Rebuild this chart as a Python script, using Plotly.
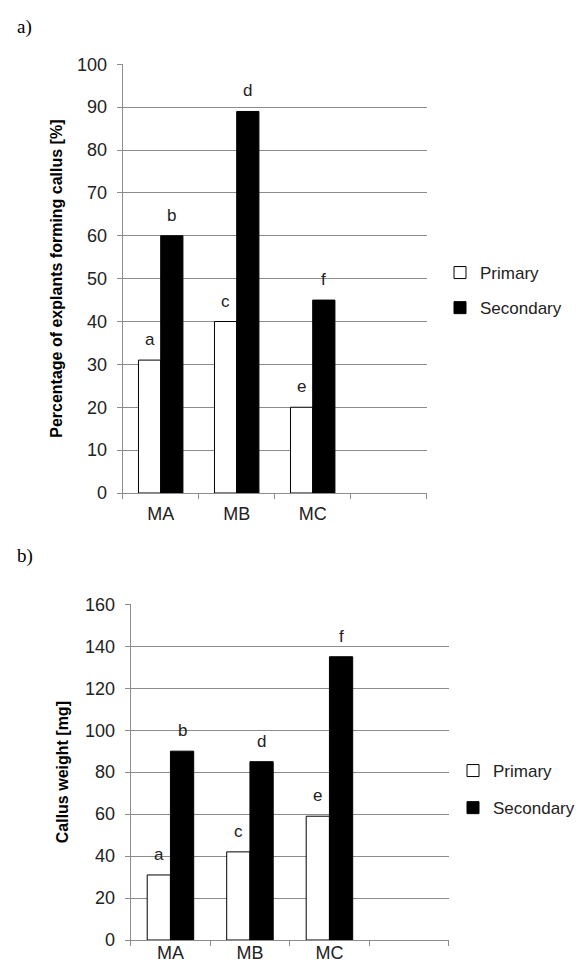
import plotly.graph_objects as go

# ---- data ----
categories = ["MA", "MB", "MC"]
pad_category = " "          # empty fourth slot on the category axis
series_names = ["Primary", "Secondary"]

pct_primary = [31, 40, 20]
pct_secondary = [60, 89, 45]
pct_primary_letters = ["a", "c", "e"]
pct_secondary_letters = ["b", "d", "f"]
pct_ticks = [0, 10, 20, 30, 40, 50, 60, 70, 80, 90, 100]

weight_primary = [31, 42, 59]
weight_secondary = [90, 85, 135]
weight_primary_letters = ["a", "c", "e"]
weight_secondary_letters = ["b", "d", "f"]
weight_ticks = [0, 20, 40, 60, 80, 100, 120, 140, 160]

# ---- style ----
PAGE_W, PAGE_H = 585, 967
OFF = 8                      # default page body margin
W, H = PAGE_W - OFF, PAGE_H - OFF
FONT = "Liberation Sans, Arial, sans-serif"
GRID = "#8c8c8c"
TXT = "#222222"
BARGAP = 0.415


def px(x):
    return (x - OFF) / W


def py(y):
    return 1 - (y - OFF) / H


top_x = [px(122.7), px(426.7)]
top_y = [py(493), py(64.3)]
bot_x = [px(130.7), px(448.7)]
bot_y = [py(940), py(604.3)]

xcats = categories + [pad_category]

fig = go.Figure()


def add_pair(prim, sec, xa, ya, leg):
    fig.add_trace(go.Bar(
        x=xcats, y=prim + [None], name=series_names[0], xaxis=xa, yaxis=ya,
        marker=dict(color="white", line=dict(color="black", width=1)),
        legend=leg, legendgroup=leg + "p"))
    fig.add_trace(go.Bar(
        x=xcats, y=sec + [None], name=series_names[1], xaxis=xa, yaxis=ya,
        marker=dict(color="black", line=dict(color="black", width=1)),
        legend=leg, legendgroup=leg + "s"))


add_pair(pct_primary, pct_secondary, "x", "y", "legend")
add_pair(weight_primary, weight_secondary, "x2", "y2", "legend2")

annotations = []


def add_letters(vals, letters, xref, yref, dom):
    cat_px = (dom[1] - dom[0]) * W / 4
    bar_px = cat_px * (1 - BARGAP) / 2
    for i, c in enumerate(categories):
        for k, shift in enumerate([-bar_px / 2, bar_px / 2]):
            annotations.append(dict(
                x=c, y=vals[k][i], xref=xref, yref=yref, text=letters[k][i],
                showarrow=False, xshift=shift, yshift=9, yanchor="bottom",
                font=dict(family=FONT, size=17, color=TXT)))


add_letters((pct_primary, pct_secondary), (pct_primary_letters, pct_secondary_letters), "x", "y", top_x)
add_letters((weight_primary, weight_secondary), (weight_primary_letters, weight_secondary_letters), "x2", "y2", bot_x)

SERIF = "Liberation Serif, Times New Roman, serif"
annotations.append(dict(x=px(15), y=py(27), xref="paper", yref="paper", text="a)",
                        showarrow=False, xanchor="left", yanchor="middle",
                        font=dict(family=SERIF, size=19, color="black")))
annotations.append(dict(x=px(15), y=py(556), xref="paper", yref="paper", text="b)",
                        showarrow=False, xanchor="left", yanchor="middle",
                        font=dict(family=SERIF, size=19, color="black")))

xcommon = dict(type="category", categoryorder="array", categoryarray=xcats,
               range=[-0.5, 3.5], tickson="boundaries", ticks="outside", ticklen=5,
               tickcolor=GRID, showline=True, linecolor=GRID, linewidth=1, showgrid=False,
               tickfont=dict(family=FONT, size=18, color=TXT), automargin=False)
ycommon = dict(showgrid=True, gridcolor=GRID, gridwidth=1, zeroline=False,
               showline=True, linecolor=GRID, linewidth=1, ticks="outside", ticklen=5,
               tickcolor=GRID, tickfont=dict(family=FONT, size=18, color=TXT),
               automargin=False, ticklabelstandoff=6)

fig.update_layout(
    width=W, height=H,
    margin=dict(l=0, r=0, t=0, b=0),
    paper_bgcolor="white", plot_bgcolor="white",
    barmode="group", bargap=BARGAP, bargroupgap=0,
    font=dict(family=FONT, color=TXT),
    xaxis=dict(domain=top_x, anchor="y", ticklabelstandoff=4, **xcommon),
    yaxis=dict(domain=top_y, anchor="x", range=[0, 100], tickvals=pct_ticks,
               title=dict(text="<b>Percentage of explants forming callus [%]</b>",
                          font=dict(family=FONT, size=16, color="black"), standoff=10),
               **ycommon),
    xaxis2=dict(domain=bot_x, anchor="y2", ticklabelstandoff=-4, **xcommon),
    yaxis2=dict(domain=bot_y, anchor="x2", range=[0, 160], tickvals=weight_ticks,
                title=dict(text="<b>Callus weight [mg]</b>",
                           font=dict(family=FONT, size=16, color="black"), standoff=12),
                **ycommon),
    legend=dict(x=px(440), y=py(290.5), xanchor="left", yanchor="middle",
                traceorder="grouped", tracegroupgap=10, bgcolor="rgba(0,0,0,0)",
                font=dict(family=FONT, size=17, color=TXT)),
    legend2=dict(x=px(453), y=py(789.5), xanchor="left", yanchor="middle",
                 traceorder="grouped", tracegroupgap=12, bgcolor="rgba(0,0,0,0)",
                 font=dict(family=FONT, size=17, color=TXT)),
    annotations=annotations,
    showlegend=True,
)

fig.write_html("out.html")
